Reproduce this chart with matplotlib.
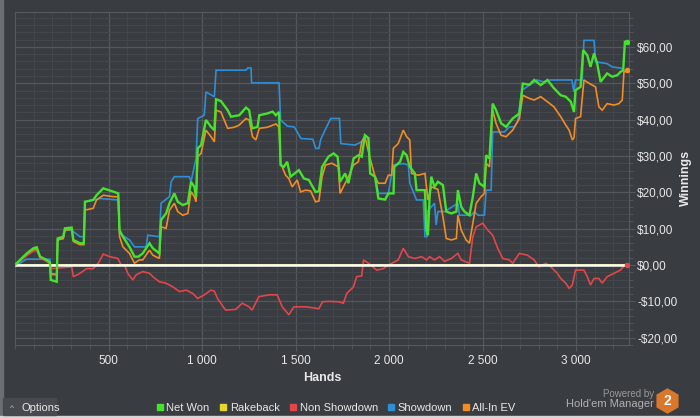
import matplotlib
matplotlib.use("Agg")
import matplotlib.pyplot as plt
from matplotlib.lines import Line2D
from matplotlib.patches import Rectangle, RegularPolygon
from matplotlib.ticker import FuncFormatter, MultipleLocator

plt.rcParams["font.family"] = ["Liberation Sans", "DejaVu Sans"]

# (hand, cumulative $) points
net_won = [
    (0, 0.0), (9, 0.5), (63, 3.2), (98, 4.6), (116, 4.9), (134, 2.3), (169, 1.4), (187, 0.7), (191, -4.1), (223, -4.6),
    (228, 7.3), (258, 7.8), (267, 10.1), (303, 10.3), (312, 6.9), (347, 6.0), (368, 6.0), (374, 17.4), (418, 17.9), (436, 19.2),
    (472, 21.1), (525, 20.2), (552, 19.7), (559, 9.6), (577, 7.8), (612, 5.0), (639, 2.3), (660, 2.3), (683, 3.2), (719, 6.0),
    (737, 4.6), (772, 3.2), (781, 12.4), (808, 14.2), (826, 17.0), (852, 19.7), (870, 17.4), (897, 16.5), (924, 17.0), (941, 22.9),
    (959, 21.5), (968, 18.8), (977, 32.1), (995, 33.0), (1021, 39.9), (1048, 38.0), (1066, 37.1), (1075, 45.6), (1101, 45.1), (1137, 42.6),
    (1155, 40.8), (1199, 41.2), (1235, 43.3), (1252, 42.6), (1268, 37.6), (1297, 38.0), (1306, 41.2), (1350, 41.7), (1377, 42.2), (1395, 41.2),
    (1412, 42.1), (1420, 27.5), (1438, 27.0), (1455, 28.4), (1473, 24.3), (1518, 26.1), (1545, 23.8), (1571, 23.4), (1607, 20.1), (1625, 20.3),
    (1642, 27.0), (1676, 29.8), (1703, 30.7), (1725, 29.8), (1738, 22.9), (1765, 25.2), (1783, 22.5), (1810, 29.3), (1836, 30.2), (1854, 29.8),
    (1871, 35.7), (1890, 34.9), (1899, 25.2), (1925, 24.3), (1943, 18.3), (1979, 18.0), (1996, 19.7), (2024, 19.7), (2028, 27.0), (2059, 28.4),
    (2076, 31.1), (2094, 30.2), (2111, 27.0), (2138, 25.2), (2147, 20.6), (2192, 20.6), (2199, 9.6), (2208, 8.2), (2217, 18.8), (2226, 24.3),
    (2243, 21.5), (2261, 22.9), (2288, 22.0), (2306, 14.7), (2333, 14.2), (2360, 14.7), (2368, 20.6), (2386, 16.0), (2403, 14.7), (2430, 13.7),
    (2448, 18.8), (2466, 25.2), (2483, 22.5), (2510, 21.5), (2519, 30.2), (2537, 29.3), (2554, 44.4), (2572, 42.6), (2599, 39.0), (2626, 38.0),
    (2661, 40.3), (2697, 41.7), (2715, 49.9), (2751, 49.6), (2776, 50.9), (2811, 49.5), (2847, 50.9), (2882, 48.6), (2918, 46.7), (2945, 46.3),
    (2972, 44.9), (2989, 42.1), (2997, 48.1), (3024, 49.0), (3038, 59.1), (3060, 57.7), (3077, 54.5), (3096, 58.2), (3113, 55.4), (3131, 50.4),
    (3166, 52.7), (3193, 51.8), (3220, 52.2), (3237, 53.1), (3252, 53.6), (3261, 61.4), (3273, 61.4),
]

all_in_ev = [
    (0, 0.0), (9, 0.4), (63, 2.8), (98, 4.2), (116, 4.5), (134, 2.0), (169, 1.2), (187, 0.5), (191, -2.3), (223, -2.6),
    (228, 6.9), (258, 7.3), (267, 9.6), (303, 9.8), (312, 6.5), (347, 5.6), (368, 5.6), (374, 15.1), (418, 15.6), (436, 17.9),
    (472, 19.2), (525, 18.8), (552, 18.8), (559, 7.8), (577, 5.0), (612, 3.2), (639, 0.5), (665, 1.4), (683, 1.4), (719, 4.1),
    (737, 2.7), (772, 1.8), (781, 10.5), (808, 10.1), (826, 15.1), (852, 17.0), (870, 14.7), (897, 13.7), (924, 14.2), (941, 20.2),
    (959, 18.8), (968, 17.4), (977, 29.8), (995, 30.7), (1021, 37.1), (1048, 35.3), (1066, 33.9), (1075, 42.6), (1101, 42.1), (1137, 37.6),
    (1173, 37.9), (1199, 38.5), (1235, 40.3), (1252, 39.9), (1270, 35.3), (1288, 34.4), (1306, 37.6), (1350, 37.9), (1395, 38.8), (1412, 37.9),
    (1420, 28.0), (1447, 24.7), (1464, 23.8), (1482, 21.5), (1509, 23.4), (1527, 20.1), (1553, 20.6), (1580, 20.4), (1607, 17.4), (1625, 17.6),
    (1642, 24.3), (1660, 27.5), (1694, 28.0), (1729, 27.0), (1738, 19.7), (1765, 22.5), (1783, 24.3), (1810, 27.5), (1836, 28.4), (1854, 33.9),
    (1871, 35.3), (1899, 29.3), (1925, 24.3), (1943, 22.5), (1979, 22.5), (1996, 24.7), (2014, 24.7), (2023, 32.1), (2049, 33.4), (2076, 37.1),
    (2094, 35.3), (2111, 34.4), (2120, 25.2), (2156, 24.7), (2192, 25.2), (2208, 17.9), (2226, 21.5), (2261, 20.8), (2288, 13.3), (2306, 7.3),
    (2333, 6.9), (2360, 7.3), (2368, 13.7), (2386, 9.6), (2412, 6.9), (2430, 6.0), (2448, 11.5), (2466, 17.0), (2492, 18.8), (2510, 19.7),
    (2519, 28.0), (2537, 27.0), (2554, 42.6), (2572, 39.0), (2599, 35.7), (2626, 35.3), (2661, 37.1), (2697, 40.3), (2715, 46.7), (2751, 45.8),
    (2776, 45.4), (2811, 46.3), (2847, 44.9), (2882, 43.5), (2918, 40.8), (2945, 38.5), (2963, 37.1), (2980, 34.4), (2989, 35.0), (2997, 40.3),
    (3024, 40.8), (3042, 50.9), (3069, 50.0), (3104, 49.0), (3122, 43.5), (3140, 42.6), (3166, 44.4), (3202, 44.0), (3229, 44.4), (3247, 45.4),
    (3256, 53.1), (3273, 53.6),
]

showdown = [
    (0, 0.0), (20, 0.3), (60, 1.6), (187, 1.6), (191, -2.7), (223, -2.7), (228, 6.9), (258, 7.3), (267, 9.6), (303, 9.6),
    (312, 9.2), (347, 7.8), (368, 7.8), (374, 17.4), (418, 17.9), (454, 18.3), (552, 17.9), (559, 8.7), (612, 6.9), (639, 5.0),
    (701, 5.0), (710, 8.2), (772, 7.8), (781, 17.0), (826, 18.8), (835, 22.9), (852, 24.3), (932, 24.3), (941, 22.9), (968, 29.3),
    (977, 40.3), (1012, 41.2), (1021, 47.6), (1066, 46.3), (1075, 53.6), (1235, 53.6), (1244, 54.2), (1262, 54.2), (1265, 50.1), (1412, 50.1),
    (1420, 39.9), (1457, 38.2), (1493, 38.0), (1529, 34.8), (1592, 34.6), (1608, 32.1), (1625, 32.1), (1635, 34.6), (1653, 36.6), (1688, 40.3),
    (1735, 40.3), (1742, 33.4), (1818, 33.0), (1854, 33.9), (1871, 35.7), (1890, 34.9), (1899, 25.2), (1925, 24.3), (1943, 19.7), (1996, 19.7),
    (2023, 27.5), (2076, 27.9), (2103, 27.5), (2111, 22.5), (2147, 17.9), (2183, 17.9), (2192, 7.8), (2203, 7.8), (2208, 15.0), (2243, 17.0),
    (2252, 11.0), (2261, 14.7), (2297, 14.7), (2368, 17.0), (2377, 13.7), (2439, 13.7), (2457, 14.7), (2475, 13.7), (2510, 13.7), (2519, 20.6),
    (2546, 20.6), (2554, 36.6), (2617, 36.6), (2643, 38.0), (2670, 38.0), (2688, 39.5), (2706, 46.7), (2711, 48.1), (2791, 50.9), (2826, 50.4),
    (2862, 50.9), (2978, 50.9), (2988, 47.6), (2997, 50.9), (3033, 50.9), (3042, 61.8), (3096, 61.8), (3104, 55.9), (3166, 55.4), (3193, 54.5),
    (3247, 54.1), (3256, 53.1), (3273, 53.6),
]

non_showdown = [
    (0, 0.0), (9, 0.4), (63, 2.6), (98, 3.8), (116, 4.0), (134, 2.0), (169, 1.0), (187, 0.3), (196, -1.0), (303, -0.5),
    (312, -3.2), (347, -2.3), (383, -1.0), (418, -1.0), (445, 0.5), (472, 3.0), (507, 2.3), (550, 1.8), (568, 0.0), (585, 0.0),
    (603, -2.3), (630, -4.1), (648, -2.7), (683, -1.8), (719, -2.3), (737, -3.2), (772, -4.6), (808, -5.0), (844, -6.0), (879, -7.3),
    (915, -6.9), (950, -7.8), (977, -9.2), (1012, -8.2), (1048, -6.9), (1066, -7.2), (1083, -9.2), (1126, -12.4), (1180, -12.2), (1215, -10.5),
    (1252, -11.5), (1268, -12.4), (1304, -8.7), (1358, -8.2), (1402, -8.2), (1429, -11.5), (1464, -13.7), (1491, -11.5), (1553, -11.5), (1598, -11.8),
    (1625, -12.0), (1644, -10.1), (1676, -10.0), (1729, -10.1), (1756, -10.5), (1774, -7.8), (1810, -6.0), (1827, -3.2), (1854, -3.0), (1863, 1.4),
    (1890, 0.5), (1934, -1.4), (1970, -1.0), (1996, 0.0), (2049, 1.4), (2076, 4.6), (2103, 2.3), (2138, 1.8), (2174, 2.3), (2201, 1.4),
    (2217, 2.3), (2243, 1.4), (2270, 2.3), (2297, 1.0), (2333, 1.8), (2368, 3.2), (2386, 1.4), (2430, 0.5), (2448, 7.8), (2466, 10.5),
    (2501, 11.5), (2528, 9.6), (2554, 8.2), (2581, 4.6), (2608, 1.8), (2643, 1.4), (2661, 0.5), (2697, 3.2), (2740, 2.7), (2776, 1.4),
    (2802, -0.5), (2838, 0.5), (2865, -0.5), (2900, -2.3), (2918, -3.7), (2945, -5.0), (2963, -6.4), (2980, -5.5), (2997, -1.4), (3042, -1.4),
    (3060, -3.2), (3077, -5.5), (3096, -3.7), (3122, -3.7), (3140, -5.0), (3166, -3.2), (3202, -2.3), (3237, -1.4), (3264, 0.2), (3273, 0.0),
]

rakeback = [(0, 0.0), (3273, 0.0)]

series_names = ["Net Won", "Rakeback", "Non Showdown", "Showdown", "All-In EV"]
series_colors = ["#46e22e", "#e6d62c", "#e2464b", "#2f8fd6", "#f28c25"]

BG = "#393c40"
TXT = "#e8e8e8"


def money(v, pos):
    s = f"${abs(v):.2f}".replace(".", ",")
    return "-" + s if v < 0 else s


def hands_fmt(v, pos):
    return f"{int(v):,}".replace(",", " ")


def main():
    fig = plt.figure(figsize=(7, 4.18), dpi=100, facecolor=BG)
    ax = fig.add_axes([15 / 700, 73 / 418, 614 / 700, 333 / 418], facecolor=BG)

    ax.set_xlim(0, 3283)
    ax.set_ylim(-22, 69.6)

    ax.xaxis.set_major_locator(MultipleLocator(500))
    ax.xaxis.set_minor_locator(MultipleLocator(100))
    ax.yaxis.set_major_locator(MultipleLocator(10))
    ax.yaxis.set_minor_locator(MultipleLocator(2))
    ax.grid(which="major", color="#54585d", lw=0.9)
    ax.grid(which="minor", color="#44474c", lw=0.7)
    ax.set_axisbelow(True)

    for sp in ax.spines.values():
        sp.set_color("#56595e")

    ax.yaxis.tick_right()
    ax.yaxis.set_label_position("right")
    ax.yaxis.set_major_formatter(FuncFormatter(money))
    ax.xaxis.set_major_formatter(FuncFormatter(hands_fmt))
    ax.set_xticks([500, 1000, 1500, 2000, 2500, 3000])
    ax.tick_params(which="both", colors="#56595e", labelcolor=TXT, labelsize=8.5)
    ax.tick_params(which="major", length=4)
    ax.tick_params(which="minor", length=3)
    ax.tick_params(axis="y", pad=2)
    ax.tick_params(axis="x", pad=3)

    ax.set_xlabel("Hands", color=TXT, fontsize=9, fontweight="bold")
    ax.set_ylabel("Winnings", color=TXT, fontsize=9, fontweight="bold")
    ax.xaxis.set_label_coords((322 - 15) / 614, -(372 - 345) / 333)
    ax.yaxis.set_label_coords((680 - 15) / 614, (345 - 178) / 333)

    def draw(data, color, lw, z):
        xs, ys = zip(*data)
        ax.plot(xs, ys, color=color, lw=lw, zorder=z, solid_joinstyle="miter")

    draw(showdown, series_colors[3], 1.2, 3)
    draw(all_in_ev, series_colors[4], 1.2, 4)
    draw(non_showdown, series_colors[2], 1.2, 5)
    draw(rakeback, series_colors[1], 1.2, 5.5)
    ax.axhline(0, color="white", lw=1.8, zorder=6)
    draw(net_won, series_colors[0], 1.7, 7)
    ax.plot([net_won[-1][0]], [net_won[-1][1]], "o", color=series_colors[0], ms=3, zorder=8)
    ax.plot([all_in_ev[-1][0]], [all_in_ev[-1][1]], "o", color=series_colors[4], ms=3, zorder=8)
    ax.plot([non_showdown[-1][0]], [non_showdown[-1][1]], "o", color=series_colors[2], ms=3, zorder=8)

    # legend at the bottom
    handles = [Line2D([], [], ls="none", marker="s", ms=5, color=c) for c in series_colors]
    fig.legend(handles, series_names, loc="center", bbox_to_anchor=(335 / 700, 10 / 418),
               ncol=5, frameon=False, fontsize=8, labelcolor=TXT, handletextpad=0.1,
               columnspacing=0.7, handlelength=1.0)

    # window frame and Options button
    fig.patches.append(Rectangle((0, 0), 2.5 / 700, 1, transform=fig.transFigure, color="#6b6e72"))
    fig.patches.append(Rectangle((0, 0), 1, 2 / 418, transform=fig.transFigure, color="#d6d6d6"))
    fig.patches.append(Rectangle((3 / 700, 3 / 418), 53 / 700, 17 / 418, transform=fig.transFigure, color="#46494d"))
    fig.text(10 / 700, 10 / 418, "^", color="#c8c8c8", fontsize=6, va="center")
    fig.text(22 / 700, 10 / 418, "Options", color=TXT, fontsize=8, va="center")

    # branding
    fig.text(654 / 700, 24 / 418, "Powered by", color="#9a9a9a", fontsize=7, ha="right", va="center")
    fig.text(654 / 700, 14 / 418, "Hold'em Manager", color="#b0b0b0", fontsize=8, ha="right", va="center")
    hexa = RegularPolygon((6.675, 0.17), numVertices=6, radius=0.12, transform=fig.dpi_scale_trans,
                          color="#d9782c")
    fig.patches.append(hexa)
    fig.text(667.5 / 700, 17 / 418, "2", color="white", fontsize=10, fontweight="bold", ha="center", va="center")

    fig.savefig("out.png", dpi=100, facecolor=BG)


if __name__ == "__main__":
    main()
